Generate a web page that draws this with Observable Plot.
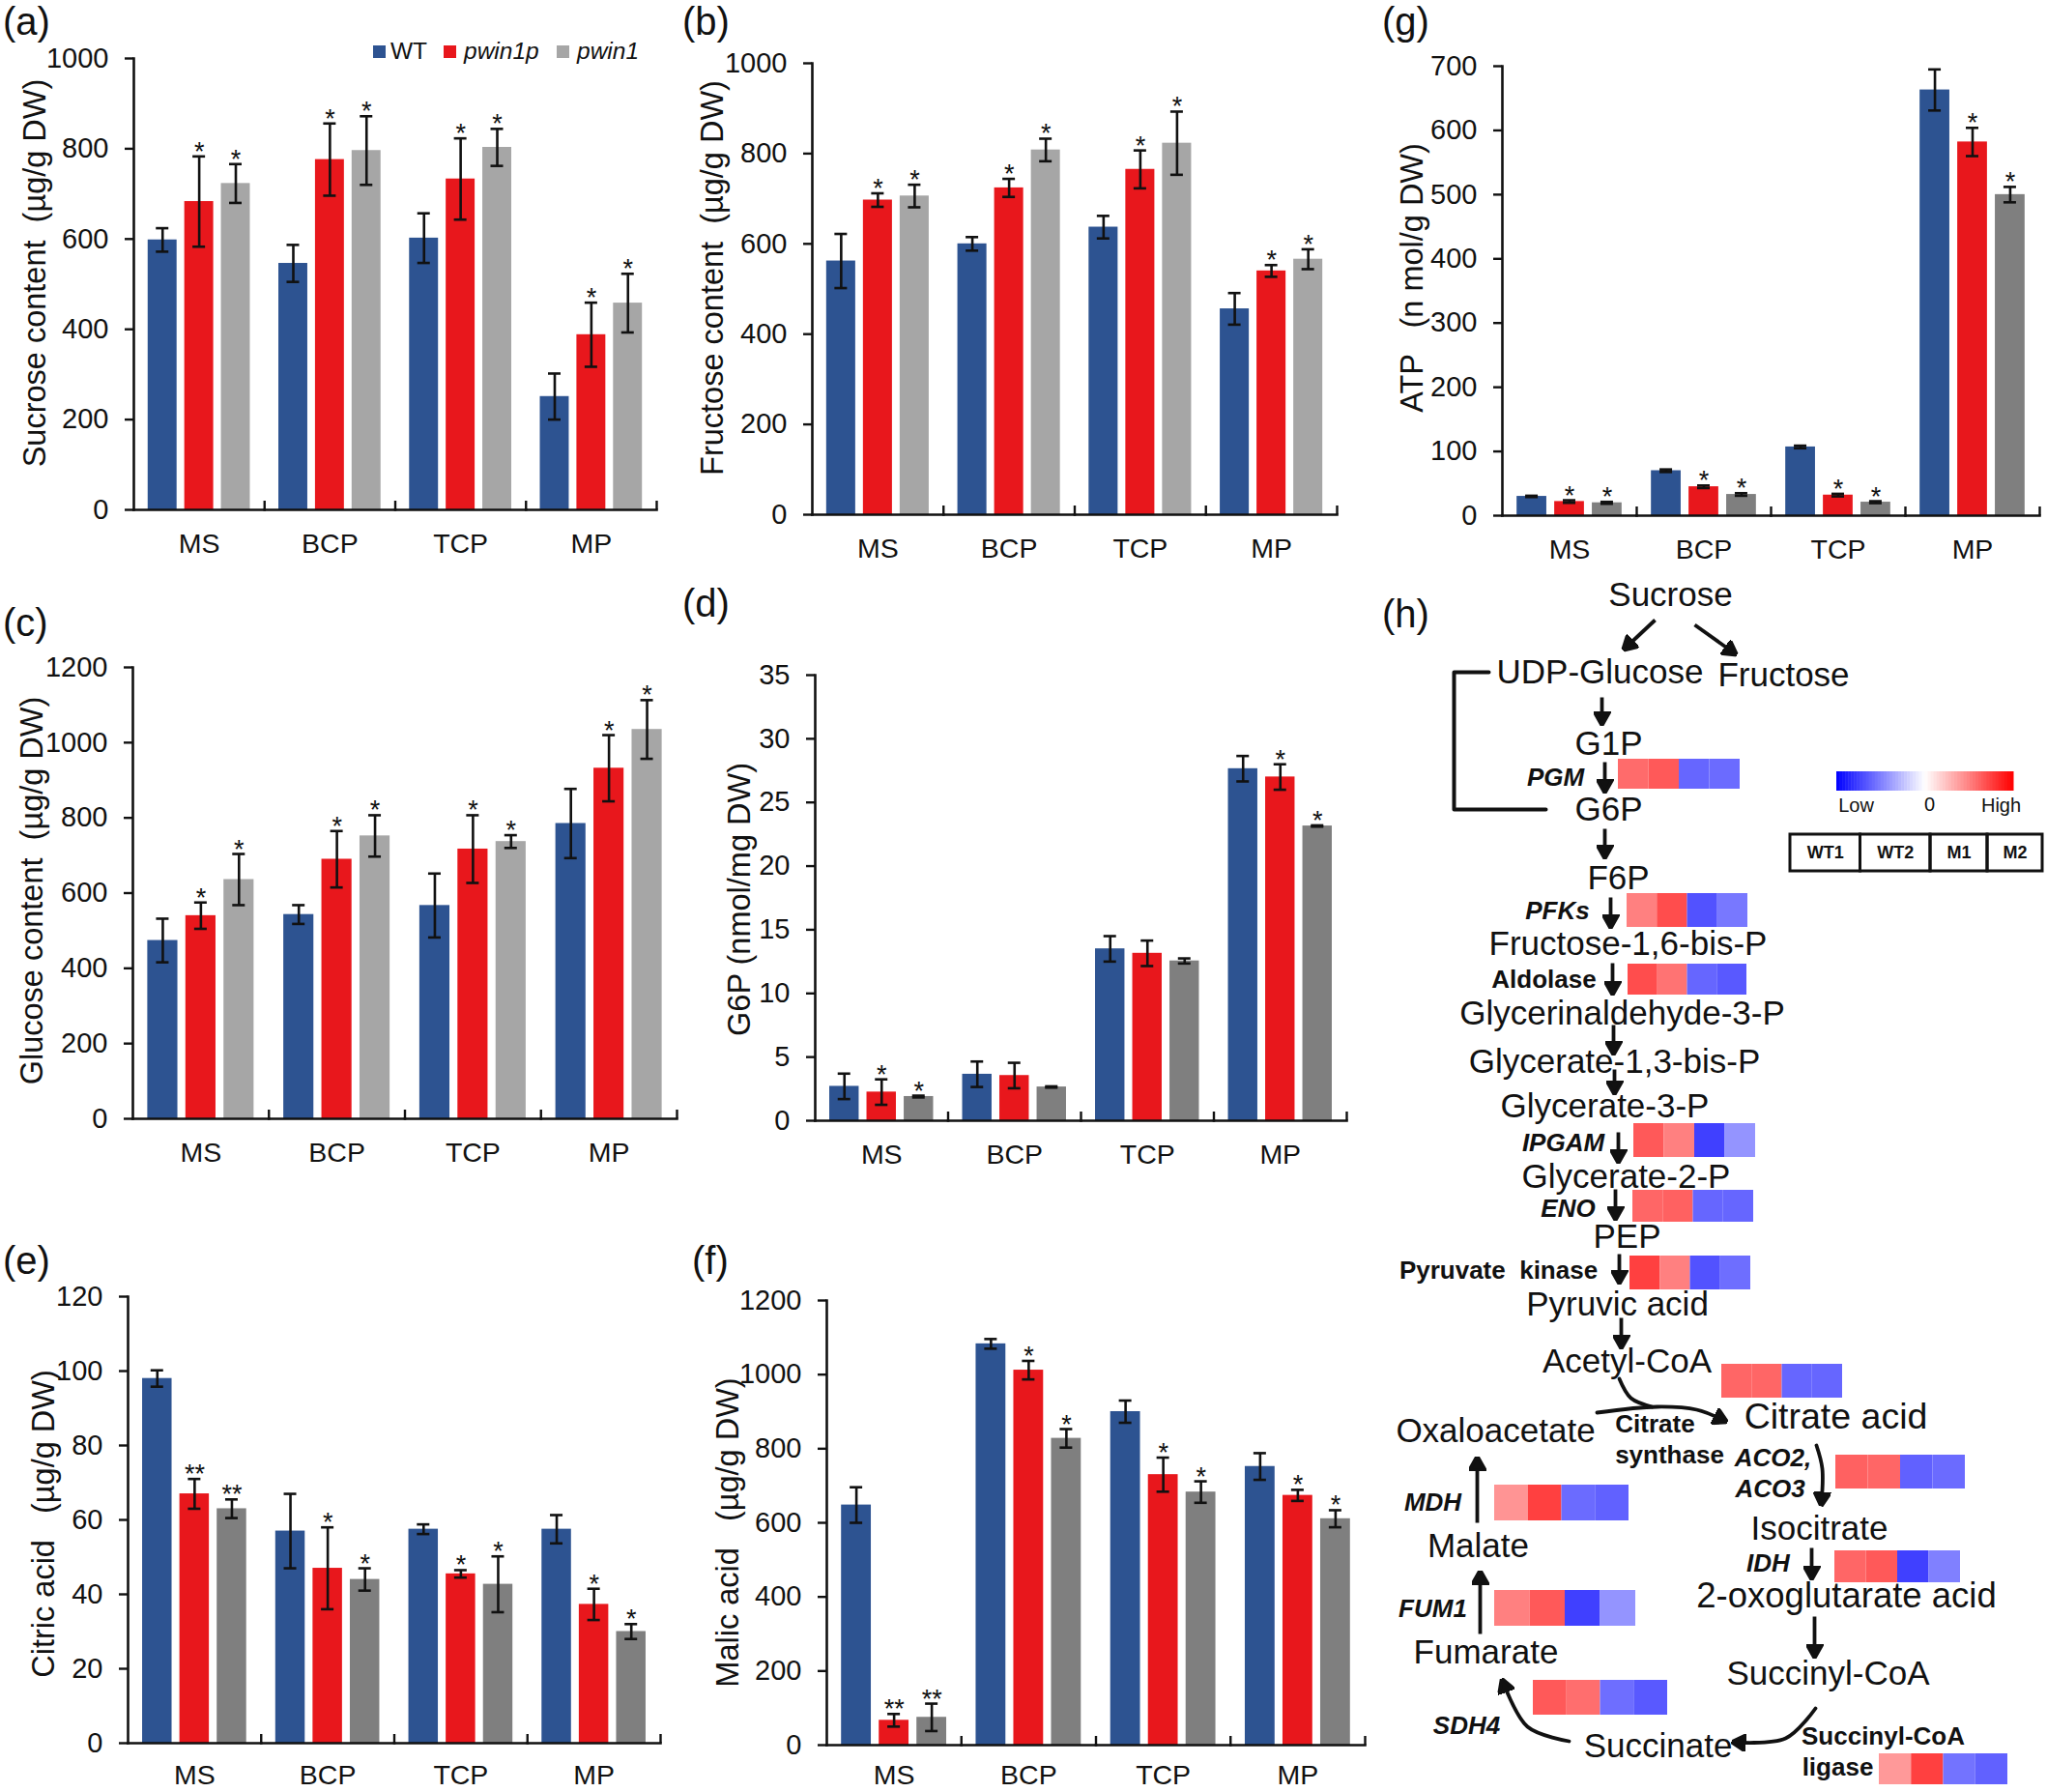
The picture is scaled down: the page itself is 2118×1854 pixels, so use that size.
<!DOCTYPE html>
<html>
<head>
<meta charset="utf-8">
<script src="https://cdn.jsdelivr.net/npm/d3@7"></script>
<script src="https://cdn.jsdelivr.net/npm/@observablehq/plot@0.6"></script>
<style>
  html,body{margin:0;padding:0;background:#fff;}
  #fig{position:relative;width:2118px;height:1854px;overflow:hidden;font-family:"Liberation Sans",Arial,sans-serif;color:#111;}
  #fig svg{position:absolute;max-width:none;}
  .letter{position:absolute;font-size:40px;line-height:40px;transform:translateY(-50%);}
  .key{position:absolute;display:flex;align-items:center;font-size:24.5px;height:28px;}
  .key i.sw{display:inline-block;width:13px;height:13px;margin-right:5px;}
</style>
</head>
<body>
<div id="fig"></div>
<script>
// ---------- bar chart data ----------
const stages = ["MS","BCP","TCP","MP"];
const genotypes = ["WT","pwin1p","pwin1"];

const sucroseMeans = [[598,546,602,251],[683,776,733,388],[723,796,803,458]];
const sucroseErrs  = [[26,41,55,51],[100,80,90,71],[43,76,41,65]];
const sucroseStars = [["","","",""],["*","*","*","*"],["*","*","*","*"]];

const fructoseMeans = [[562,600,637,456],[697,724,765,540],[706,808,823,566]];
const fructoseErrs  = [[60,15,25,35],[15,20,42,13],[25,25,70,22]];
const fructoseStars = [["","","",""],["*","*","*","*"],["*","*","*","*"]];

const glucoseMeans = [[474,543,567,785],[540,690,717,932],[636,752,737,1035]];
const glucoseErrs  = [[58,25,85,92],[35,75,90,88],[68,55,17,78]];
const glucoseStars = [["","","",""],["*","*","*","*"],["*","*","*","*"]];

const g6pMeans = [[2.7,3.65,13.5,27.65],[2.25,3.55,13.15,27],[1.9,2.65,12.55,23.15]];
const g6pErrs  = [[1,1,1,1],[1,1,1,1],[0.07,0.05,0.2,0.05]];
const g6pStars = [["","","",""],["*","","","*"],["*","","","*"]];

const citricMeans = [[98,57,57.5,57.5],[67,47,45.5,37.3],[63,44,42.7,30]];
const citricErrs  = [[2.2,10,1.3,3.8],[4,11,1,4.2],[2.5,3,7.5,2]];
const citricStars = [["","","",""],["**","*","*","*"],["**","*","*","*"]];

const malicMeans = [[648,1083,900,752],[67,1012,730,674],[75,828,683,611]];
const malicErrs  = [[48,13,30,36],[17,25,46,15],[37,25,29,23]];
const malicStars = [["","","",""],["**","*","*","*"],["**","*","*","*"]];

const atpMeans = [[30,70,107,663],[22,45,32,582],[20,33,21,500]];
const atpErrs  = [[1,2,2,32],[2,2,2,22],[1.5,2,1.5,12]];
const atpStars = [["","","",""],["*","*","*","*"],["*","*","*","*"]];

// ---------- pathway data ----------
const metabolites = ["Sucrose","UDP-Glucose","Fructose","G1P","G6P","F6P","Fructose-1,6-bis-P","Glycerinaldehyde-3-P","Glycerate-1,3-bis-P","Glycerate-3-P","Glycerate-2-P","PEP","Pyruvic acid","Acetyl-CoA","Citrate acid","Oxaloacetate","Isocitrate","2-oxoglutarate acid","Malate","Fumarate","Succinyl-CoA","Succinate"];
const enzymeGenes = ["PGM","PFKs","IPGAM","ENO","ACO2,","ACO3","MDH","IDH","FUM1","SDH4"];
const enzymePlain = ["Aldolase","Pyruvate  kinase","Citrate","synthase","Succinyl-CoA","ligase"];
const heatGenes = ["PGM","PFKs","Aldolase","IPGAM","ENO","Pyruvate kinase","Citrate synthase","ACO","IDH","MDH","FUM1","SDH4","Succinyl-CoA ligase"];
const heatValues = [
  [.58,.65,-.6,-.58],[.5,.7,-.68,-.53],[.7,.55,-.6,-.65],[.65,.5,-.75,-.42],
  [.6,.62,-.6,-.6],[.75,.5,-.68,-.57],[.6,.6,-.6,-.6],[.62,.6,-.62,-.58],
  [.6,.65,-.75,-.5],[.42,.75,-.58,-.62],[.5,.65,-.75,-.42],[.65,.57,-.57,-.65],[.4,.75,-.55,-.62]
];
const sampleNames = ["WT1","WT2","M1","M2"];

// ---------- layout (page pixels) ----------
const metabolitePos = [[1728,615],[1655,695],[1845,698],[1664,769],[1664,837],[1674,908],[1684,976],[1678,1048],[1670,1098],[1660,1144],[1682,1217],[1683,1279],[1673,1349],[1683,1408],[1899,1465],[1547,1480],[1882,1581],[1910,1651],[1529,1599],[1537,1709],[1891,1731],[1715,1806]];
const genePos = [[1609,804],[1611,942],[1617,1182],[1622,1250],[1834,1508],[1831,1540],[1482,1554],[1829,1617],[1482,1664],[1517,1785]];
const plainPos = [[1597,1013],[1550,1314],[1712,1473],[1727,1505],[1948,1796],[1901,1828]];
const heatPos = [[1674,1800,785,816],[1683,1808,924,959],[1684,1807,997,1029],[1690,1816,1162,1197],[1689,1814,1231,1264],[1686,1811,1299,1334],[1781,1906,1411,1446],[1899,2033,1505,1540],[1898,2028,1604,1637],[1546,1685,1536,1573],[1546,1692,1645,1682],[1586,1725,1738,1774],[1944,2077,1814,1846]];
const straightArrows = [[1712,641,1680,671],[1753,646,1795,676],[1657,721,1657,748],[1660,788,1660,818],[1660,857,1660,886],[1666,928,1666,958],[1668,996,1668,1027],[1669,1060,1669,1089],[1670,1106,1670,1130],[1674,1171,1674,1201],[1671,1230,1671,1260],[1675,1297,1675,1326],[1677,1363,1677,1393],[1874,1601,1874,1632],[1877,1672,1877,1713],[1531,1690,1531,1626],[1528,1575,1528,1508]];
const curvedArrows = [
  [[1652,1461],[1714,1455],[1755,1458],[1785,1470]],
  [[1879,1495],[1885,1519],[1884,1556]],
  [[1878,1767],[1847,1798],[1793,1802]],
  [[1623,1801],[1580,1786],[1554,1738]]
];
const plainCurves = [
  [[1675,1426],[1687,1446],[1709,1455]],
  [[1540,695],[1504,695],[1504,837],[1599,837]]
];

const frames = {
  a:{l:138,r:679,t:60,b:527,title:[36,282],letter:[3,22],pad:24},
  b:{l:840,r:1383,t:65,b:532,title:[737,287],letter:[706,22],pad:24},
  c:{l:137,r:700,t:690,b:1157,title:[33,921],letter:[3,644],pad:24},
  d:{l:843,r:1393,t:698,b:1159,title:[765,930],letter:[706,624],pad:24},
  e:{l:132,r:683,t:1341,b:1803,title:[45,1576],letter:[3,1304],pad:22},
  f:{l:855,r:1412,t:1345,b:1805,title:[753,1585],letter:[716,1304],pad:20},
  g:{l:1554,r:2110,t:68,b:533,title:[1461,287],letter:[1430,22],pad:24}
};

const fig = document.getElementById("fig");
const blue = "#2d5391", red = "#e8171c", lightGray = "#a6a6a6", darkGray = "#7f7f7f";
const fontFamily = '"Liberation Sans", Arial, sans-serif';
const inkColor = "#111";

function place(svg, left, top){
  svg.style.left = left + "px";
  svg.style.top = top + "px";
  fig.appendChild(svg);
}
function letter(txt, pos){
  const d = document.createElement("div");
  d.className = "letter";
  d.textContent = txt;
  d.style.left = pos[0] + "px";
  d.style.top = pos[1] + "px";
  fig.appendChild(d);
}

function barPanel(id, title, means, errs, stars, ymax, step, gray){
  const f = frames[id];
  const ml = 115, mr = 6, mt = 18, mb = 49;
  const w = f.r - f.l, h = f.b - f.t;
  const rows = [];
  genotypes.forEach((g,i) => stages.forEach((s,j) => rows.push({
    stage:s, genotype:g, value:means[i][j], err:errs[i][j], star:stars[i][j]
  })));
  const pIn = .21, pOut = .39;
  const stepPx = (w/4)/(3 - pIn + 2*pOut);
  const band = stepPx*(1-pIn);
  const capInset = Math.max(0,(band-13)/2);
  const edge = stepPx*(pOut + (1-pIn)/2);
  const svg = Plot.plot({
    width: w+ml+mr, height: h+mt+mb,
    marginLeft: ml, marginRight: mr, marginTop: mt, marginBottom: mb,
    style:{background:"transparent",fontFamily,overflow:"visible",color:inkColor},
    fx:{domain:stages,padding:0,label:null,round:false},
    x:{domain:genotypes,paddingInner:pIn,paddingOuter:pOut,axis:null,label:null,round:false},
    y:{domain:[0,ymax],label:null},
    color:{domain:genotypes,range:[blue,red,gray]},
    marks:[
      Plot.barY(rows,{fx:"stage",x:"genotype",y:"value",fill:"genotype"}),
      Plot.ruleX(rows,{fx:"stage",x:"genotype",y1:d=>d.value-d.err,y2:d=>d.value+d.err,stroke:inkColor,strokeWidth:2.6}),
      Plot.tickY(rows,{fx:"stage",x:"genotype",y:d=>d.value+d.err,stroke:inkColor,strokeWidth:2.6,insetLeft:capInset,insetRight:capInset}),
      Plot.tickY(rows,{fx:"stage",x:"genotype",y:d=>d.value-d.err,stroke:inkColor,strokeWidth:2.6,insetLeft:capInset,insetRight:capInset}),
      Plot.text(rows.filter(d=>d.star),{fx:"stage",x:"genotype",y:d=>d.value+d.err,text:"star",fontSize:27,lineAnchor:"bottom",dy:4,fill:inkColor}),
      Plot.frame({anchor:"bottom",stroke:inkColor,strokeWidth:2.6}),
      Plot.frame({anchor:"left",facetAnchor:"left",stroke:inkColor,strokeWidth:2.6}),
      Plot.ruleX(stages,{fx:d=>d,x:()=>"pwin1",dx:edge,y1:0,y2:ymax*9/h,stroke:inkColor,strokeWidth:2.4}),
      Plot.axisY({ticks:d3.range(0,ymax+step/2,step),tickFormat:d3.format("d"),tickSize:9,tickPadding:17,fontSize:29,strokeWidth:2.4,label:null}),
      Plot.axisFx({anchor:"bottom",tickSize:0,tickPadding:f.pad,fontSize:28.5,label:null}),
      Plot.text([title],{fx:()=>stages[0],frameAnchor:"left",dx:f.title[0]-f.l,dy:f.title[1]-(f.t+f.b)/2,rotate:-90,fontSize:32.5,textAnchor:"middle",lineAnchor:"middle",fill:inkColor})
    ]
  });
  place(svg, f.l-ml, f.t-mt);
  letter("("+id+")", f.letter);
}

barPanel("a","Sucrose content  (µg/g DW)",sucroseMeans,sucroseErrs,sucroseStars,1000,200,lightGray);
barPanel("b","Fructose content  (µg/g DW)",fructoseMeans,fructoseErrs,fructoseStars,1000,200,lightGray);
barPanel("c","Glucose content  (µg/g DW)",glucoseMeans,glucoseErrs,glucoseStars,1200,200,lightGray);
barPanel("d","G6P (nmol/mg DW)",g6pMeans,g6pErrs,g6pStars,35,5,darkGray);
barPanel("e","Citric acid   (µg/g DW)",citricMeans,citricErrs,citricStars,120,20,darkGray);
barPanel("f","Malic acid   (µg/g DW)",malicMeans,malicErrs,malicStars,1200,200,darkGray);
barPanel("g","ATP   (n mol/g DW)",atpMeans,atpErrs,atpStars,700,100,darkGray);

// legend of panel (a)
[[386,"WT",blue,false],[459,"pwin1p",red,true],[576,"pwin1",lightGray,true]].forEach(([x,t,c,it])=>{
  const k = document.createElement("div");
  k.className = "key";
  k.style.left = x+"px"; k.style.top = "39px";
  k.innerHTML = `<i class="sw" style="background:${c}"></i><span style="font-style:${it?"italic":"normal"};margin-left:${it?3:0}px">${t}</span>`;
  fig.appendChild(k);
});

// ---------- pathway panel (h) ----------
function filledHead(color){
  const ns = "http://www.w3.org/2000/svg";
  const m = document.createElementNS(ns,"marker");
  m.setAttribute("viewBox","0 -9 15 18");
  m.setAttribute("markerWidth",15);
  m.setAttribute("markerHeight",18);
  m.setAttribute("markerUnits","userSpaceOnUse");
  m.setAttribute("refX",13);
  m.setAttribute("refY",0);
  m.setAttribute("orient","auto");
  const p = document.createElementNS(ns,"path");
  p.setAttribute("d","M0,-8.5L15,0L0,8.5Z");
  p.setAttribute("fill","#111");
  m.appendChild(p);
  return m;
}
const nodeSize = t => t==="Citrate acid" ? 37.5 : t==="2-oxoglutarate acid" ? 36.5 : 35;
const nodeRows = metabolites.map((t,i)=>({t,x:metabolitePos[i][0],y:metabolitePos[i][1]}));
const geneRows = enzymeGenes.map((t,i)=>({t,x:genePos[i][0],y:genePos[i][1]}));
const plainRows = enzymePlain.map((t,i)=>({t,x:plainPos[i][0],y:plainPos[i][1]}));
const heatRows = heatGenes.flatMap((g,i)=>{
  const [x1,x2,y1,y2] = heatPos[i];
  return heatValues[i].map((v,j)=>({g,v,x1:x1+(x2-x1)*j/4,x2:x1+(x2-x1)*(j+1)/4,y1,y2}));
});
const curveRows = curvedArrows.flatMap((c,i)=>c.map(p=>({id:i,x:p[0],y:p[1]})));
const plainCurveRows = plainCurves.flatMap((c,i)=>c.map(p=>({id:i,x:p[0],y:p[1]})));
const rampX1 = 1900, rampX2 = 2083, rampN = 60;
const ramp = d3.range(rampN).map(i=>({v:-1+2*(i+.5)/rampN,x1:rampX1+(rampX2-rampX1)*i/rampN,x2:rampX1+(rampX2-rampX1)*(i+1)/rampN+.5}));
const boxEdges = [1852,1924.5,1997,2056,2113];
const boxRows = sampleNames.map((t,i)=>({t,x1:boxEdges[i],x2:boxEdges[i+1]}));

const path = Plot.plot({
  width:698, height:1274,
  margin:0,
  style:{background:"transparent",fontFamily,overflow:"visible",color:inkColor},
  x:{domain:[1420,2118],range:[0,698],axis:null},
  y:{domain:[580,1854],range:[0,1274],axis:null},
  color:{type:"linear",domain:[-1,0,1],range:["#0000ff","#ffffff","#ff0000"]},
  marks:[
    Plot.rect(heatRows,{x1:"x1",x2:"x2",y1:"y1",y2:"y2",fill:"v"}),
    Plot.text(nodeRows,{x:"x",y:"y",text:"t",fontSize:d=>nodeSize(d.t),fill:inkColor}),
    Plot.text(geneRows,{x:"x",y:"y",text:"t",fontSize:26,fontWeight:"bold",fontStyle:"italic",fill:inkColor}),
    Plot.text(plainRows,{x:"x",y:"y",text:"t",fontSize:26,fontWeight:"bold",fill:inkColor}),
    Plot.link(straightArrows,{x1:d=>d[0],y1:d=>d[1],x2:d=>d[2],y2:d=>d[3],stroke:inkColor,strokeWidth:3.8,markerEnd:filledHead}),
    Plot.line(curveRows,{x:"x",y:"y",z:"id",curve:"catmull-rom",stroke:inkColor,strokeWidth:3.8,markerEnd:filledHead}),
    Plot.line(plainCurveRows.filter(d=>d.id===0),{x:"x",y:"y",curve:"catmull-rom",stroke:inkColor,strokeWidth:3.8}),
    Plot.line(plainCurveRows.filter(d=>d.id===1),{x:"x",y:"y",curve:"linear",stroke:inkColor,strokeWidth:4}),
    // colour key
    Plot.rect(ramp,{x1:"x1",x2:"x2",y1:798,y2:818,fill:"v"}),
    Plot.text(["Low"],{x:1920,y:833,text:d=>d,fontSize:20,fill:inkColor}),
    Plot.text(["0"],{x:1996,y:832,text:d=>d,fontSize:20,fill:inkColor}),
    Plot.text(["High"],{x:2070,y:833,text:d=>d,fontSize:20,fill:inkColor}),
    Plot.rect(boxRows,{x1:"x1",x2:"x2",y1:863,y2:901,fill:"none",stroke:inkColor,strokeWidth:3}),
    Plot.text(boxRows,{x:d=>(d.x1+d.x2)/2,y:882,text:"t",fontSize:18,fontWeight:"bold",fill:inkColor})
  ]
});
place(path,1420,580);
letter("(h)",[1430,635]);
</script>
</body>
</html>
